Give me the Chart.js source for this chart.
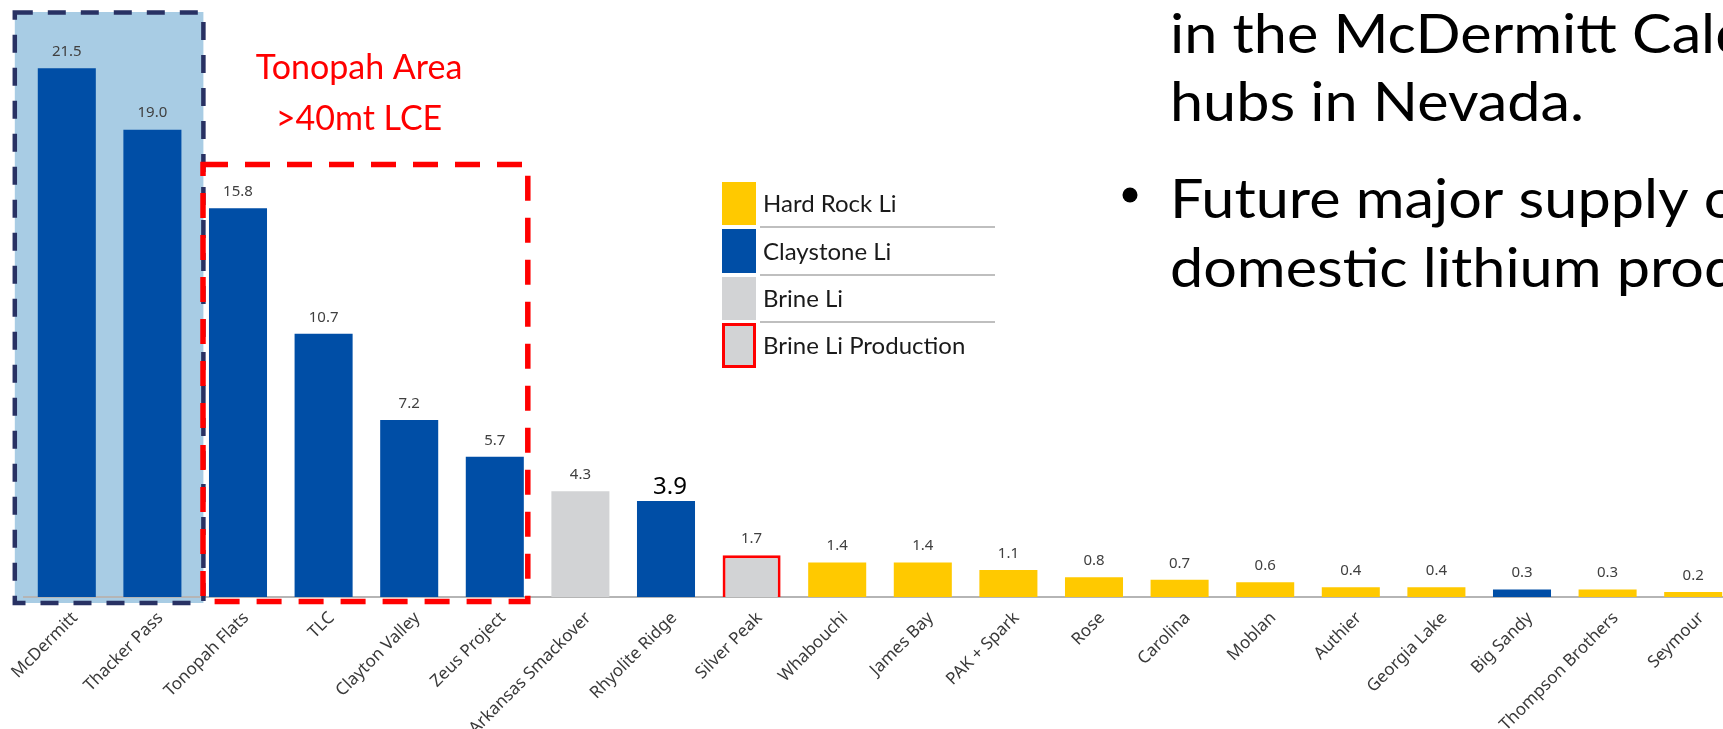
<!DOCTYPE html>
<html>
<head>
<meta charset="utf-8">
<title>Lithium resources</title>
<script src="https://cdn.jsdelivr.net/npm/chart.js@4.4.1/dist/chart.umd.min.js"></script>
<style>
    html, body { margin: 0; padding: 0; background: #fff; overflow: hidden; }
    #wrap { width: 1740px; height: 729px; }
</style>
</head>
<body>
<div id="wrap"><canvas id="resourceChart" width="1740" height="729"></canvas></div>
<script>
// Chart data
const categories = ['McDermitt', 'Thacker Pass', 'Tonopah Flats', 'TLC', 'Clayton Valley', 'Zeus Project',
    'Arkansas Smackover', 'Rhyolite Ridge', 'Silver Peak', 'Whabouchi', 'James Bay', 'PAK + Spark',
    'Rose', 'Carolina', 'Moblan', 'Authier', 'Georgia Lake', 'Big Sandy', 'Thompson Brothers', 'Seymour'];
const values = [21.5, 19.0, 15.8, 10.7, 7.2, 5.7, 4.3, 3.9, 1.7, 1.4, 1.4, 1.1, 0.8, 0.7, 0.6, 0.4, 0.4, 0.3, 0.3, 0.2];
const types = ['clay', 'clay', 'clay', 'clay', 'clay', 'clay', 'brine', 'clay', 'brineProd', 'hard',
    'hard', 'hard', 'hard', 'hard', 'hard', 'hard', 'hard', 'clay', 'hard', 'hard'];
const legendLabels = ['Hard Rock Li', 'Claystone Li', 'Brine Li', 'Brine Li Production'];
const legendTypes = ['hard', 'clay', 'brine', 'brineProd'];
const calloutLines = ['Tonopah Area', '>40mt LCE'];
const sideLines = ['in the McDermitt Caldera', 'hubs in Nevada.', 'Future major supply of', 'domestic lithium production'];

const typeColors = {
    hard: '#FFC900',
    clay: '#004EA6',
    brine: '#D2D3D5',
    brineProd: '#D2D3D5'
};
const RED = '#FF0000';

// Boxes, callout, value labels, legend and side text
const decorPlugin = {
    id: 'decor',
    beforeDraw(chart) {
        const ctx = chart.ctx;
        const x = chart.scales.x;
        // McDermitt caldera shading
        ctx.save();
        ctx.fillStyle = '#A8CCE4';
        ctx.fillRect(x.getPixelForValue(0) - 52, 12, x.getPixelForValue(1) - x.getPixelForValue(0) + 103, 591);
        ctx.restore();
    },
    afterDatasetsDraw(chart) {
        const ctx = chart.ctx;
        const x = chart.scales.x;
        const meta = chart.getDatasetMeta(0);

        // value labels
        ctx.save();
        ctx.textAlign = 'center';
        ctx.textBaseline = 'bottom';
        meta.data.forEach((bar, i) => {
            if (categories[i] === 'Rhyolite Ridge') {
                ctx.font = '24px "Noto Sans"';
                ctx.fillStyle = '#000';
                ctx.fillText(values[i].toFixed(1), bar.x + 4, bar.y - 2);
            } else {
                ctx.font = '15px "Noto Sans"';
                ctx.fillStyle = '#404040';
                ctx.fillText(values[i].toFixed(1), bar.x, bar.y - 9);
            }
        });
        ctx.restore();

        // navy dashed box
        const nLeft = x.getPixelForValue(0) - 52;
        const nRight = x.getPixelForValue(1) + 51;
        ctx.save();
        ctx.strokeStyle = '#283163';
        ctx.lineWidth = 4.5;
        ctx.setLineDash([18, 15]);
        ctx.strokeRect(nLeft, 12.5, nRight - nLeft, 590.5);
        ctx.restore();

        // red dashed box (Tonopah area)
        const rLeft = x.getPixelForValue(2) - 35;
        const rRight = x.getPixelForValue(5) + 33;
        ctx.save();
        ctx.strokeStyle = RED;
        ctx.lineWidth = 5.5;
        ctx.setLineDash([25, 17]);
        ctx.strokeRect(rLeft, 164.5, rRight - rLeft, 437);
        ctx.restore();

        // callout text
        ctx.save();
        ctx.fillStyle = RED;
        ctx.font = '34px Lato';
        ctx.textAlign = 'center';
        ctx.fillText(calloutLines[0], 359, 79);
        ctx.fillText(calloutLines[1], 359, 130);
        ctx.restore();
    },
    afterDraw(chart) {
        const ctx = chart.ctx;

        // legend
        const rows = [[182, 225], [229, 273], [277, 320], [323, 368]];
        ctx.save();
        ctx.font = '24px Lato';
        ctx.textBaseline = 'middle';
        ctx.fillStyle = '#BFBFBF';
        [227, 275, 322].forEach(y => ctx.fillRect(760, y - 1, 235, 2));
        legendLabels.forEach((label, i) => {
            const [y0, y1] = rows[i];
            ctx.fillStyle = typeColors[legendTypes[i]];
            ctx.fillRect(722, y0, 34, y1 - y0);
            if (legendTypes[i] === 'brineProd') {
                ctx.strokeStyle = RED;
                ctx.lineWidth = 3;
                ctx.strokeRect(723.5, y0 + 1.5, 31, y1 - y0 - 3);
            }
            ctx.fillStyle = '#1a1a1a';
            ctx.fillText(label, 763, (y0 + y1) / 2 + 1);
        });
        ctx.restore();

        // side text (slide bullets)
        ctx.save();
        ctx.fillStyle = '#000';
        ctx.font = '55px Lato';
        const sx = 462 / ctx.measureText('in the McDermitt ').width;
        const baselines = [53, 121, 218, 287];
        sideLines.forEach((line, i) => {
            ctx.save();
            ctx.translate(1170, baselines[i]);
            ctx.scale(sx, 1);
            ctx.fillText(line, 0, 0);
            ctx.restore();
        });
        ctx.beginPath();
        ctx.arc(1130, 195, 7.5, 0, Math.PI * 2);
        ctx.fill();
        ctx.restore();
    }
};

const ctx = document.getElementById('resourceChart').getContext('2d');

new Chart(ctx, {
    type: 'bar',
    data: {
        labels: categories,
        datasets: [{
            data: values,
            backgroundColor: types.map(t => typeColors[t]),
            borderColor: types.map(t => t === 'brineProd' ? RED : 'rgba(0,0,0,0)'),
            borderWidth: types.map(t => t === 'brineProd' ? 3 : 0),
            categoryPercentage: 1,
            barPercentage: 0.678
        }]
    },
    options: {
        responsive: false,
        animation: false,
        devicePixelRatio: 1,
        layout: { padding: { left: 24, right: 4, top: 0, bottom: 0 } },
        plugins: {
            legend: { display: false },
            tooltip: { enabled: false }
        },
        scales: {
            x: {
                grid: { display: false, drawTicks: false },
                border: { display: true, color: '#B5B5B5', width: 2 },
                ticks: {
                    autoSkip: false,
                    minRotation: 45,
                    maxRotation: 45,
                    padding: 11,
                    labelOffset: 8,
                    color: '#3A3A3A',
                    font: { family: 'Noto Sans', size: 17 }
                },
                afterFit: function(scale) {
                    // keep the plot area where the slide had it
                    scale.height = 132;
                    scale.paddingLeft = 0;
                    scale.paddingRight = 0;
                }
            },
            y: {
                display: false,
                min: 0,
                max: 24.27
            }
        }
    },
    plugins: [decorPlugin]
});
</script>
</body>
</html>
